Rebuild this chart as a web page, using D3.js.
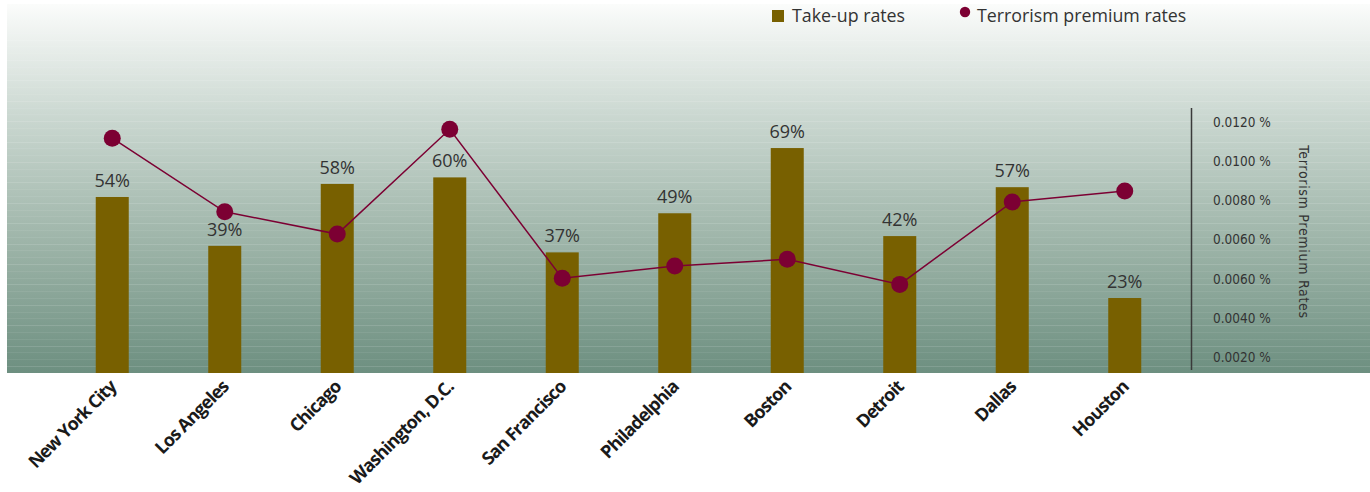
<!DOCTYPE html>
<html>
<head>
<meta charset="utf-8">
<script src="https://cdn.jsdelivr.net/npm/d3@7"></script>
<style>
  html, body { margin: 0; padding: 0; background: #ffffff; }
  svg { display: block; }
</style>
</head>
<body>
<svg id="chart" width="1370" height="492"></svg>
<script>
// ---- data ----
const categories = ["New York City", "Los Angeles", "Chicago", "Washington, D.C.", "San Francisco",
                    "Philadelphia", "Boston", "Detroit", "Dallas", "Houston"];
const takeUpRates = [0.54, 0.39, 0.58, 0.60, 0.37, 0.49, 0.69, 0.42, 0.57, 0.23];
const premiumRates = [0.01131, 0.00818, 0.00723, 0.01169, 0.00535, 0.00587, 0.00616, 0.00509, 0.00860, 0.00906];
const premiumTickValues = [0.0120, 0.01033, 0.00867, 0.0070, 0.00533, 0.00367, 0.0020];
const premiumTickLabels = ["0.0120 %", "0.0100 %", "0.0080 %", "0.0060 %", "0.0060 %", "0.0040 %", "0.0020 %"];
const legendLabels = ["Take-up rates", "Terrorism premium rates"];
const rightAxisTitle = "Terrorism Premium Rates";

// ---- styles ----
const barColor = "#786000";
const lineColor = "#7c0033";
const textColor = "#333333";

const svg = d3.select("#chart");
const plot = { left: 7, top: 4, right: 1370, bottom: 373 };

// background gradient
const defs = svg.append("defs");
const grad = defs.append("linearGradient").attr("id", "bg").attr("x1", 0).attr("y1", 0).attr("x2", 0).attr("y2", 1);
grad.append("stop").attr("offset", "0%").attr("stop-color", "#fbfcfb");
grad.append("stop").attr("offset", "30%").attr("stop-color", "#cbd8d1");
grad.append("stop").attr("offset", "65%").attr("stop-color", "#9db4a8");
grad.append("stop").attr("offset", "100%").attr("stop-color", "#6d8f80");

svg.append("rect")
  .attr("x", plot.left).attr("y", plot.top)
  .attr("width", plot.right - plot.left).attr("height", plot.bottom - plot.top)
  .attr("fill", "url(#bg)");

// faint horizontal stripes
const stripes = d3.range(plot.bottom - 7, plot.top + 20, -6.8);
svg.append("g").selectAll("line").data(stripes).join("line")
  .attr("x1", plot.left).attr("x2", plot.right)
  .attr("y1", d => Math.round(d) + 0.5).attr("y2", d => Math.round(d) + 0.5)
  .attr("stroke", "#ffffff")
  .attr("stroke-opacity", (d, i) => (i % 3 === 0 ? 0.13 : 0.07))
  .attr("stroke-width", 1);

// ---- scales ----
const x = d3.scaleBand().domain(categories).range([56, 1181]).padding(0);
const barWidth = 33;
const yLeft = d3.scaleLinear().domain([0, 1]).range([plot.bottom, 47]);
const yRight = d3.scaleLinear().domain([0.002, 0.012]).range([357, 122]);
const cx = d => x(d) + x.bandwidth() / 2;

// bars
svg.append("g").selectAll("rect").data(categories).join("rect")
  .attr("x", d => cx(d) - barWidth / 2)
  .attr("y", (d, i) => yLeft(takeUpRates[i]))
  .attr("width", barWidth)
  .attr("height", (d, i) => plot.bottom - yLeft(takeUpRates[i]))
  .attr("fill", barColor);

// bar value labels
svg.append("g").selectAll("text").data(categories).join("text")
  .attr("x", d => cx(d))
  .attr("y", (d, i) => yLeft(takeUpRates[i]) - 10)
  .attr("text-anchor", "middle")
  .attr("font-family", "'Open Sans', sans-serif")
  .attr("font-size", 18)
  .attr("fill", textColor)
  .text((d, i) => Math.round(takeUpRates[i] * 100) + "%");

// line
const line = d3.line().x(d => cx(d)).y((d, i) => yRight(premiumRates[i]));
svg.append("path").datum(categories)
  .attr("d", line)
  .attr("fill", "none")
  .attr("stroke", lineColor)
  .attr("stroke-width", 1.5);

svg.append("g").selectAll("circle").data(categories).join("circle")
  .attr("cx", d => cx(d))
  .attr("cy", (d, i) => yRight(premiumRates[i]))
  .attr("r", 8.5)
  .attr("fill", lineColor);

// right axis
const axisX = 1191;
svg.append("line")
  .attr("x1", axisX + 0.5).attr("x2", axisX + 0.5)
  .attr("y1", 108).attr("y2", 370)
  .attr("stroke", "#3a3a3a").attr("stroke-width", 1.5);

const axisG = svg.append("g").attr("transform", `translate(${axisX},0)`);
axisG.call(d3.axisRight(yRight)
    .tickValues(premiumTickValues)
    .tickFormat((d, i) => premiumTickLabels[i])
    .tickSize(0)
    .tickPadding(22));
axisG.select(".domain").remove();
axisG.selectAll("text")
  .attr("font-family", "'DejaVu Sans Condensed', 'Liberation Sans Narrow', sans-serif")
  .attr("font-size", 13.5)
  .attr("fill", textColor);

svg.append("text")
  .attr("transform", "translate(1299,232) rotate(90)")
  .attr("text-anchor", "middle")
  .attr("font-family", "'DejaVu Sans Condensed', 'Liberation Sans Narrow', sans-serif")
  .attr("font-size", 14)
  .attr("letter-spacing", 0.7)
  .attr("fill", textColor)
  .text(rightAxisTitle);

// x labels
svg.append("g").selectAll("text").data(categories).join("text")
  .attr("transform", d => `translate(${cx(d) + 5},${388}) rotate(-45)`)
  .attr("text-anchor", "end")
  .attr("font-family", "'Open Sans', sans-serif")
  .attr("font-weight", "bold")
  .attr("font-size", 18)
  .attr("letter-spacing", -0.9)
  .attr("fill", "#1a1a1a")
  .text(d => d);

// legend
const legend = svg.append("g");
legend.append("rect").attr("x", 772).attr("y", 10).attr("width", 12).attr("height", 12).attr("fill", barColor);
legend.append("text").attr("x", 792).attr("y", 22)
  .attr("font-family", "'Open Sans', sans-serif").attr("font-size", 17.8).attr("fill", textColor)
  .text(legendLabels[0]);
legend.append("circle").attr("cx", 965).attr("cy", 12).attr("r", 5.2).attr("fill", lineColor);
legend.append("text").attr("x", 977).attr("y", 22)
  .attr("font-family", "'Open Sans', sans-serif").attr("font-size", 17.8).attr("fill", textColor)
  .text(legendLabels[1]);
</script>
</body>
</html>
